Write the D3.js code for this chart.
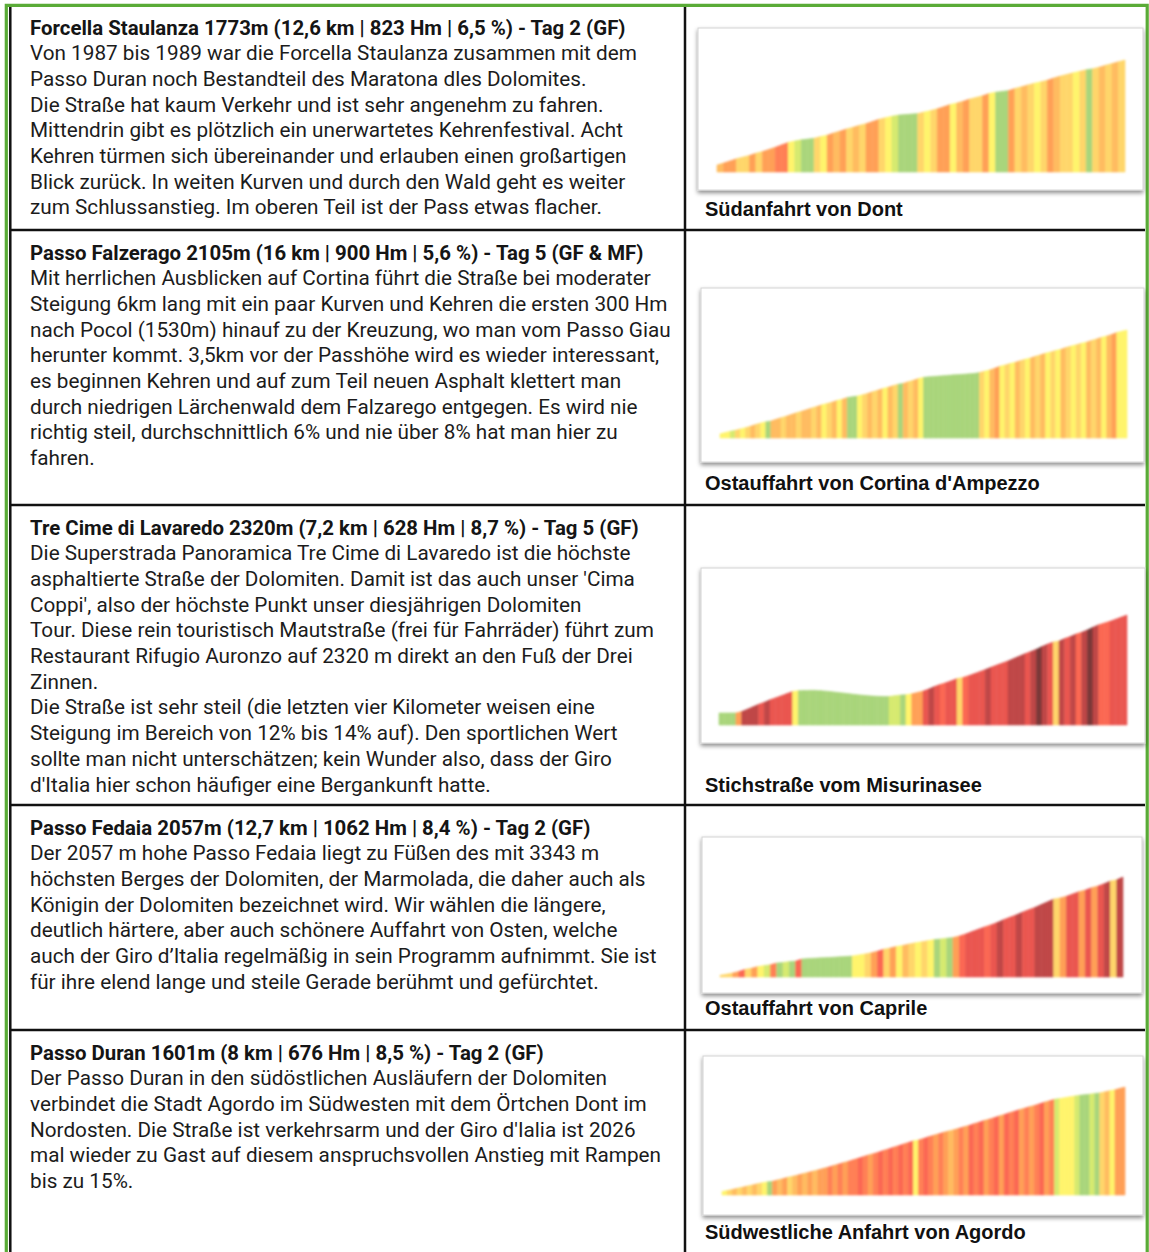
<!DOCTYPE html>
<html>
<head>
<meta charset="utf-8">
<script src="https://cdn.jsdelivr.net/npm/d3@7"></script>
<style>
  body { margin: 0; background: #fff; }
  svg { display: block; }
</style>
</head>
<body>
<div id="chart"></div>
<script>
// ---- data ----
const titles = [
  'Forcella Staulanza 1773m (12,6 km | 823 Hm | 6,5 %) - Tag 2 (GF)',
  'Passo Falzerago 2105m (16 km | 900 Hm | 5,6 %) - Tag 5 (GF & MF)',
  'Tre Cime di Lavaredo 2320m (7,2 km | 628 Hm | 8,7 %) - Tag 5 (GF)',
  'Passo Fedaia 2057m (12,7 km | 1062 Hm | 8,4 %) - Tag 2 (GF)',
  'Passo Duran 1601m (8 km | 676 Hm | 8,5 %) - Tag 2 (GF)'
]

const descriptions = [
  [
    'Von 1987 bis 1989 war die Forcella Staulanza zusammen mit dem',
    'Passo Duran noch Bestandteil des Maratona dles Dolomites.',
    'Die Straße hat kaum Verkehr und ist sehr angenehm zu fahren.',
    'Mittendrin gibt es plötzlich ein unerwartetes Kehrenfestival. Acht',
    'Kehren türmen sich übereinander und erlauben einen großartigen',
    'Blick zurück. In weiten Kurven und durch den Wald geht es weiter',
    'zum Schlussanstieg. Im oberen Teil ist der Pass etwas flacher.'
  ],
  [
    'Mit herrlichen Ausblicken auf Cortina führt die Straße bei moderater',
    'Steigung 6km lang mit ein paar Kurven und Kehren die ersten 300 Hm',
    'nach Pocol (1530m) hinauf zu der Kreuzung, wo man vom Passo Giau',
    'herunter kommt. 3,5km vor der Passhöhe wird es wieder interessant,',
    'es beginnen Kehren und auf zum Teil neuen Asphalt klettert man',
    'durch niedrigen Lärchenwald dem Falzarego entgegen. Es wird nie',
    'richtig steil, durchschnittlich 6% und nie über 8% hat man hier zu',
    'fahren.'
  ],
  [
    'Die Superstrada Panoramica Tre Cime di Lavaredo ist die höchste',
    "asphaltierte Straße der Dolomiten. Damit ist das auch unser 'Cima",
    "Coppi', also der höchste Punkt unser diesjährigen Dolomiten",
    'Tour. Diese rein touristisch Mautstraße (frei für Fahrräder) führt zum',
    'Restaurant Rifugio Auronzo auf 2320 m direkt an den Fuß der Drei',
    'Zinnen.',
    'Die Straße ist sehr steil (die letzten vier Kilometer weisen eine',
    'Steigung im Bereich von 12% bis 14% auf). Den sportlichen Wert',
    'sollte man nicht unterschätzen; kein Wunder also, dass der Giro',
    "d'Italia hier schon häufiger eine Bergankunft hatte."
  ],
  [
    'Der 2057 m hohe Passo Fedaia liegt zu Füßen des mit 3343 m',
    'höchsten Berges der Dolomiten, der Marmolada, die daher auch als',
    'Königin der Dolomiten bezeichnet wird. Wir wählen die längere,',
    'deutlich härtere, aber auch schönere Auffahrt von Osten, welche',
    'auch der Giro d’Italia regelmäßig in sein Programm aufnimmt. Sie ist',
    'für ihre elend lange und steile Gerade berühmt und gefürchtet.'
  ],
  [
    'Der Passo Duran in den südöstlichen Ausläufern der Dolomiten',
    'verbindet die Stadt Agordo im Südwesten mit dem Örtchen Dont im',
    "Nordosten. Die Straße ist verkehrsarm und der Giro d'Ialia ist 2026",
    'mal wieder zu Gast auf diesem anspruchsvollen Anstieg mit Rampen',
    'bis zu 15%.'
  ]
]

const captions = [
  'Südanfahrt von Dont',
  "Ostauffahrt von Cortina d'Ampezzo",
  'Stichstraße vom Misurinasee',
  'Ostauffahrt von Caprile',
  'Südwestliche Anfahrt von Agordo'
]

// summit, height gain and the lowest elevation shown in each profile (m)
const summits = [1773, 2105, 2320, 2057, 1601]
const gains = [823, 900, 628, 1062, 676]
const floors = [895, 1168, 1617, 977, 903]
// length of one coloured strip (km)
const stepKm = [0.2, 0.2, 0.1, 0.2, 0.1]

// gradient (%) of each strip
const gradesStaulanza = [
  7.5, 8.5, 8.5, 6.5, 6.5, 8.5, 6.5, 8.5, 8.5, 9.5, 9.5,
  5.5, 4.5, 3, 3.5, 6.5, 5.5, 8.5, 7.5, 8.5, 6.5,
  7.5, 6.5, 8.5, 8.5, 6.5, 5.5, 4.5, 2, 2, 2,
  6.5, 5.5, 6.5, 8.5, 8.5, 5.5, 7.5, 8.5, 6.5, 6.5, 8.5, 5.5, 3, 3,
  8.5, 6.5, 7.5, 6.5, 5.5, 6.5, 8.5, 7.5, 6.5, 6.5, 5.5, 6.5, 3.5, 6.5, 7.5, 6.5, 7.5, 6.5
]
const gradesFalzarego = [
  5.5, 5.5, 4.5, 6.5, 5.5, 6.5, 7.5, 6.5, 5.5, 3.5,
  7.5, 7.5, 6.5, 7.5, 7.5, 6.5, 7.5, 7.5, 6.5, 7.5,
  5.5, 6.5, 7.5, 5.5, 7.5, 3.5, 3, 5.5, 6.5, 7.5,
  6.5, 7.5, 5.5, 7.5, 6.5, 3.5, 7.5, 6.5, 7.5, 5.5,
  2, 2, 1.5, 2, 1.5, 2, 1, 2, 1.5, 2, 3.5,
  6.5, 5.5, 7.5, 8.5, 5.5, 6.5, 5.5, 7.5, 6.5, 5.5, 7.5, 6.5, 7.5, 5.5, 6.5,
  5.5, 7.5, 6.5, 5.5, 6.5, 5.5, 7.5, 6.5, 7.5, 5.5, 7.5, 8.5, 5.5, 5.5
]
const gradesTreCime = [
  0, 0, 0.5,
  8.5, 15, 15, 15, 13, 15, 13, 13, 13, 13,
  5.5,
  1, 0.5, 0, -2, -3, -4, -4, -4, -4, -4, -4, -3, -3, -2, -1, 0,
  4.5, 4.5, 2, 5.5, 8.5, 8.5,
  13, 15, 13, 11, 13, 13, 6.5, 11, 13, 13, 13, 15, 13, 13, 13, 15, 15, 15,
  13, 15, 17, 15, 13, 6.5, 15, 13, 15, 11, 15, 17, 15, 11, 11, 13, 13, 13
]
const gradesFedaia = [
  6.5, 6.5, 8.5, 11, 6.5, 8.5, 5.5, 4.5, 9.5,
  3, 4.5, 3, 11, 3, 1.5, 2, 1.5, 2, 2, 2, 2.5,
  5.5, 5.5, 6.5, 8.5, 11, 6.5, 8.5, 5.5, 7.5, 6.5, 5.5, 6.5, 5.5, 3.5, 4.5, 3,
  8.5, 11, 13, 13, 12.5, 11, 13, 15, 13, 13, 15, 13, 13, 15, 15, 15,
  6.5, 8.5, 13, 12.5, 8.5, 13, 8.5, 13, 15, 6.5, 15
]
const gradesDuran = [
  5.5, 6.5, 7.5, 6.5, 7.5, 6.5, 7.5, 6.5, 5.5, 3.5,
  8.5, 7.5, 8.5, 6.5, 7.5, 8.5, 7.5, 8.5, 7.5, 8.5, 8.5, 9.5, 8.5, 9.5,
  8.5, 9.5, 9.5, 10.5, 9.5, 8.5, 9.5, 10.5, 9.5, 10.5, 9.5, 10.5, 9.5, 10.5,
  5.5, 9.5, 10.5, 9.5, 8.5, 9.5, 8.5, 7.5, 8.5, 9.5, 8.5, 10.5, 9.5, 10.5,
  8.5, 9.5, 10.5, 8.5, 10.5, 9.5, 10.5, 8.5, 9.5, 8.5, 9.5, 10.5, 8.5, 9.5,
  4.5, 5.5, 5, 5.5, 4.5, 3.5, 3, 4.5, 3.5, 6.5, 7.5, 5.5, 8.5, 8.5
]
const grades = [gradesStaulanza, gradesFalzarego, gradesTreCime, gradesFedaia, gradesDuran]

// gradient classes (%) and their colours
const gradeBreaks = [4, 5, 6, 7, 8, 9, 10, 12, 14, 16]
const gradeColors = [
  '#a9d57b', '#d6ea6f', '#fff46c', '#ffd66a', '#ffbc60', '#ffa057',
  '#ff8055', '#fb6852', '#ea5650', '#bf4646', '#7a3838'
]

// ---- layout ----
const width = 1149
const height = 1252
const rowTops = [5, 230, 505, 805, 1030]
const lineStep = 25.7
const textX = 30
const colX = 685
// framed picture and plot area of every profile
const frames = [
  { x0: 698, y0: 28, x1: 1143, y1: 190, left: 717, right: 1125, base: 172, top: 60, cap: 216 },
  { x0: 701, y0: 288, x1: 1144, y1: 462, left: 720, right: 1127, base: 438, top: 330, cap: 490 },
  { x0: 701, y0: 568, x1: 1145, y1: 743, left: 719, right: 1127, base: 725, top: 615, cap: 792 },
  { x0: 702, y0: 837, x1: 1142, y1: 993, left: 720, right: 1123, base: 977, top: 877, cap: 1015 },
  { x0: 703, y0: 1056, x1: 1143, y1: 1215, left: 722, right: 1125, base: 1195, top: 1087, cap: 1239 }
]

const textFont = 'Roboto, "Noto Sans", sans-serif'
const capFont = '"Liberation Sans", Arial, sans-serif'

const svg = d3
  .select('#chart')
  .append('svg')
  .attr('width', width)
  .attr('height', height)

const defs = svg.append('defs')
const shadow = defs.append('filter').attr('id', 'shadow')
  .attr('x', '-5%').attr('y', '-10%').attr('width', '110%').attr('height', '130%')
shadow.append('feDropShadow')
  .attr('dx', 0).attr('dy', 2.5).attr('stdDeviation', 2)
  .attr('flood-color', '#000').attr('flood-opacity', 0.45)
// the original pictures are a bit blurry
const soft = defs.append('filter').attr('id', 'soft')
soft.append('feGaussianBlur').attr('stdDeviation', 0.8)

// fit the text size to the width one line takes in the original
function fitSize(family, weight, str, target) {
  const t = svg.append('text')
    .attr('font-family', family)
    .attr('font-weight', weight)
    .attr('font-size', 100)
    .text(str)
  const w = t.node().getComputedTextLength()
  t.remove()
  return 100 * target / w
}
const bodySize = fitSize(textFont, 400, descriptions[1][0], 621)
const titleSize = fitSize(textFont, 700, titles[1], 614)

const colorScale = d3.scaleThreshold().domain(gradeBreaks).range(gradeColors)

// ---- table grid ----
const grid = svg.append('g')
rowTops.slice(1).forEach(y => {
  grid.append('line')
    .attr('x1', 10).attr('x2', 1145)
    .attr('y1', y).attr('y2', y)
    .attr('stroke', '#111').attr('stroke-width', 2.5)
})
grid.append('line')
  .attr('x1', colX).attr('x2', colX).attr('y1', 6).attr('y2', height)
  .attr('stroke', '#111').attr('stroke-width', 2.5)
grid.append('line')
  .attr('x1', 10.3).attr('x2', 10.3).attr('y1', 6).attr('y2', height)
  .attr('stroke', '#111').attr('stroke-width', 2.5)
// green outer frame
grid.append('path')
  .attr('d', `M6.3,${height} V5.3 H1147.2 V${height}`)
  .attr('fill', 'none')
  .attr('stroke', '#5aab37')
  .attr('stroke-width', 3.2)

// ---- rows ----
titles.forEach((title, k) => {
  const top = rowTops[k]
  const g = svg.append('g').attr('class', 'row')

  g.append('text')
    .attr('x', textX)
    .attr('y', top + 29.5)
    .attr('font-family', textFont)
    .attr('font-weight', 700)
    .attr('font-size', titleSize)
    .attr('fill', '#151515')
    .text(title)

  g.selectAll('.line')
    .data(descriptions[k])
    .enter()
    .append('text')
    .attr('class', 'line')
    .attr('x', textX)
    .attr('y', (d, i) => top + 29.5 + (i + 1) * lineStep)
    .attr('font-family', textFont)
    .attr('font-size', bodySize)
    .attr('fill', '#1c1c1c')
    .text(d => d)

  // framed profile picture
  const f = frames[k]
  g.append('rect')
    .attr('x', f.x0).attr('y', f.y0)
    .attr('width', f.x1 - f.x0).attr('height', f.y1 - f.y0)
    .attr('fill', '#fff')
    .attr('stroke', '#d4d4d4')
    .attr('stroke-width', 1)
    .attr('filter', 'url(#shadow)')

  const step = stepKm[k]
  const elev = [summits[k] - gains[k]]
  grades[k].forEach(v => elev.push(elev[elev.length - 1] + v * step * 10))
  const points = elev.map((e, i) => ({ km: i * step, elev: e }))

  const xScale = d3.scaleLinear()
    .domain([0, grades[k].length * step])
    .range([f.left, f.right])
  const yScale = d3.scaleLinear()
    .domain([floors[k], d3.max(elev)])
    .range([f.base, f.top])

  const area = d3.area()
    .x(d => xScale(d.km))
    .y0(f.base)
    .y1(d => yScale(d.elev))

  g.append('g')
    .attr('filter', 'url(#soft)')
    .selectAll('path')
    .data(grades[k].map((v, i) => ({ grade: v, pts: [points[i], points[i + 1]] })))
    .enter()
    .append('path')
    .attr('d', d => area(d.pts))
    .attr('fill', d => colorScale(d.grade))
    .attr('stroke', d => colorScale(d.grade))
    .attr('stroke-width', 0.6)

  g.append('text')
    .attr('x', 705)
    .attr('y', f.cap)
    .attr('font-family', capFont)
    .attr('font-weight', 700)
    .attr('font-size', 20)
    .attr('fill', '#111')
    .text(captions[k])
})
</script>
</body>
</html>
